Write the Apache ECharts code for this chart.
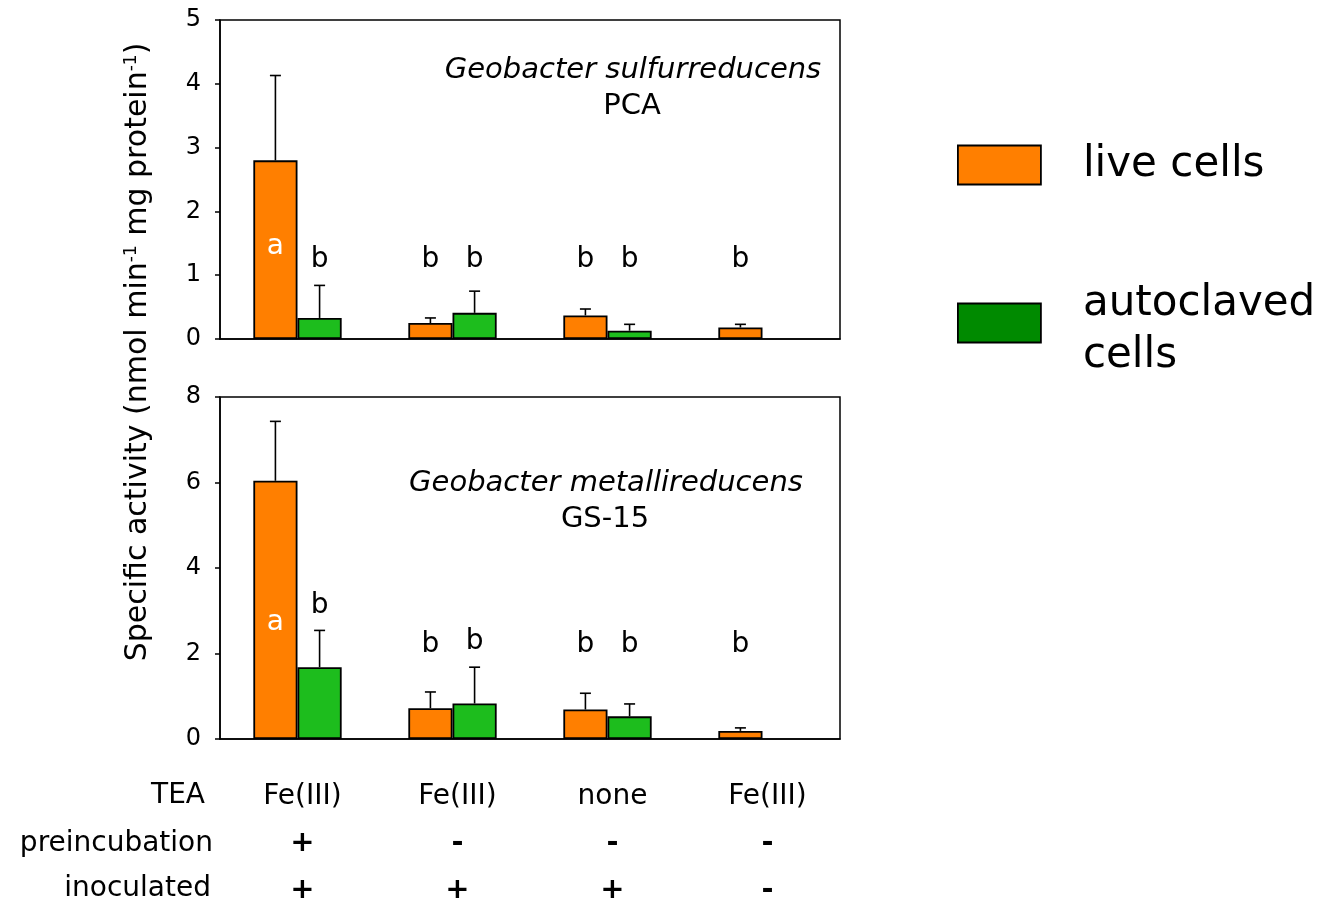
<!DOCTYPE html>
<html>
<head>
<meta charset="utf-8">
<script src="https://cdn.jsdelivr.net/npm/echarts@6/dist/echarts.min.js"></script>
<style>
html,body{margin:0;padding:0;background:#fff;}
#chart{width:1317px;height:901px;}
</style>
</head>
<body>
<div id="chart"></div>
<script>
// ---- data ----
const categories = ['Fe(III)', 'Fe(III)', 'none', 'Fe(III)'];
const preincubation = ['+', '-', '-', '-'];
const inoculated = ['+', '+', '+', '-'];
const seriesNames = ['live cells', 'autoclaved\ncells'];

// Geobacter sulfurreducens PCA
const pcaLive = [2.80, 0.25, 0.37, 0.18];
const pcaLiveErr = [1.33, 0.08, 0.10, 0.05];
const pcaAuto = [0.33, 0.41, 0.13, null];
const pcaAutoErr = [0.51, 0.34, 0.10, null];
const pcaLettersLive = ['a', 'b', 'b', 'b'];
const pcaLettersAuto = ['b', 'b', 'b', null];

// Geobacter metallireducens GS-15
const gsLive = [6.04, 0.72, 0.69, 0.19];
const gsLiveErr = [1.39, 0.38, 0.38, 0.07];
const gsAuto = [1.68, 0.83, 0.53, null];
const gsAutoErr = [0.86, 0.85, 0.29, null];
const gsLettersLive = ['a', 'b', 'b', 'b'];
const gsLettersAuto = ['b', 'b', 'b', null];

// ---- styling ----
const FONT = 'DejaVu Sans';
const ORANGE = '#ff7f00';
const GREEN = '#1dbd1d';
const LEGEND_GREEN = '#008a00';
const CAT_GAP = 0.43;

function errData(live, liveErr, auto, autoErr) {
  const out = [];
  live.forEach((v, i) => { if (v != null) out.push([i, 0, v, v + liveErr[i]]); });
  auto.forEach((v, i) => { if (v != null) out.push([i, 1, v, v + autoErr[i]]); });
  return out;
}
function letterData(live, liveErr, auto, autoErr, lLive, lAuto) {
  const out = [], txt = [];
  live.forEach((v, i) => { if (lLive[i]) { out.push([i, 0, v + liveErr[i]]); txt.push(lLive[i]); } });
  auto.forEach((v, i) => { if (lAuto[i]) { out.push([i, 1, v + autoErr[i]]); txt.push(lAuto[i]); } });
  return { data: out, txt };
}

function barOffset(api, side) {
  const band = api.size([1, 0])[0];
  const bw = band * (1 - CAT_GAP) / 2;
  return side === 0 ? -bw / 2 : bw / 2;
}

function errRender(params, api) {
  const cat = api.value(0), side = api.value(1), v = api.value(2), hi = api.value(3);
  const p0 = api.coord([cat, v]);
  const p1 = api.coord([cat, hi]);
  const x = p0[0] + barOffset(api, side);
  const st = { stroke: '#000', lineWidth: 1.6 };
  return {
    type: 'group',
    children: [
      { type: 'line', shape: { x1: x, y1: p0[1], x2: x, y2: p1[1] }, style: st },
      { type: 'line', shape: { x1: x - 5.5, y1: p1[1], x2: x + 5.5, y2: p1[1] }, style: st }
    ]
  };
}

function makeLetterRender(txt, rowLevel, aLevel) {
  return function (params, api) {
    const cat = api.value(0), side = api.value(1), top = api.value(2);
    const letter = txt[params.dataIndex];
    const x = api.coord([cat, 0])[0] + barOffset(api, side);
    let y, fill = '#000';
    if (letter === 'a') {
      y = api.coord([cat, aLevel])[1];
      fill = '#fff';
    } else {
      const rowPx = api.coord([cat, rowLevel])[1];
      const errPx = api.coord([cat, top])[1];
      y = Math.min(rowPx, errPx - 28);
    }
    return {
      type: 'text',
      style: { text: letter, x: x, y: y + 3, textAlign: 'center', textVerticalAlign: 'middle',
        font: '28px "' + FONT + '"', fill: fill }
    };
  };
}

const pcaLetters = letterData(pcaLive, pcaLiveErr, pcaAuto, pcaAutoErr, pcaLettersLive, pcaLettersAuto);
const gsLetters = letterData(gsLive, gsLiveErr, gsAuto, gsAutoErr, gsLettersLive, gsLettersAuto);

const barStyle = (c) => ({ color: c, borderColor: '#000', borderWidth: 1.8 });

const yAxisCommon = {
  type: 'value',
  axisLine: { show: true, lineStyle: { color: '#000', width: 1.5 } },
  axisTick: { show: true, length: 5, lineStyle: { color: '#000', width: 1.5 } },
  axisLabel: { color: '#000', fontSize: 24, fontFamily: FONT, margin: 19 },
  splitLine: { show: false }
};

const option = {
  animation: false,
  backgroundColor: '#fff',
  textStyle: { fontFamily: FONT },
  grid: [
    { left: 220, top: 20, width: 620, height: 319, show: true, borderColor: '#000', borderWidth: 1.5,
      backgroundColor: 'transparent', containLabel: false, outerBoundsMode: 'none' },
    { left: 220, top: 397, width: 620, height: 342, show: true, borderColor: '#000', borderWidth: 1.5,
      backgroundColor: 'transparent', containLabel: false, outerBoundsMode: 'none' }
  ],
  xAxis: [
    { type: 'category', gridIndex: 0, data: categories,
      axisLine: { lineStyle: { color: '#000', width: 1.5 } },
      axisTick: { show: false }, axisLabel: { show: false } },
    { type: 'category', gridIndex: 1, data: categories,
      axisLine: { lineStyle: { color: '#000', width: 1.5 } },
      axisTick: { show: false },
      axisLabel: {
        margin: 34, color: '#000', fontSize: 28, fontFamily: FONT, lineHeight: 47,
        padding: [0, 0, 0, 10],
        formatter: function (val, idx) {
          return val + '\n{s|' + preincubation[idx] + '}\n{s|' + inoculated[idx] + '}';
        },
        rich: { s: { fontSize: 29, fontWeight: 'bold', fontFamily: FONT, lineHeight: 47, color: '#000' } }
      } }
  ],
  yAxis: [
    Object.assign({}, yAxisCommon, { gridIndex: 0, min: 0, max: 5, interval: 1 }),
    Object.assign({}, yAxisCommon, { gridIndex: 1, min: 0, max: 8, interval: 2 })
  ],
  legend: {
    orient: 'vertical', left: 957, top: 139, itemWidth: 83, itemHeight: 39, itemGap: 68,
    padding: 0, icon: 'rect',
    formatter: function (name) {
      const lines = name.split('\n');
      if (lines.length < 2) return '{q|' + name + '}';
      return '{p|' + lines[0] + '}\n{r|' + lines.slice(1).join(' ') + '}';
    },
    textStyle: {
      fontSize: 42, fontFamily: FONT, color: '#000', lineHeight: 52, padding: [0, 0, 0, 37],
      rich: {
        p: { fontSize: 42, fontFamily: FONT, color: '#000', lineHeight: 66, verticalAlign: 'bottom' },
        q: { fontSize: 42, fontFamily: FONT, color: '#000', lineHeight: 52 },
        r: { fontSize: 42, fontFamily: FONT, color: '#000', lineHeight: 62 }
      }
    },
    data: [
      { name: seriesNames[0], itemStyle: { color: ORANGE, borderColor: '#000', borderWidth: 1.8 } },
      { name: seriesNames[1], itemStyle: { color: LEGEND_GREEN, borderColor: '#000', borderWidth: 1.8 } }
    ]
  },
  series: [
    { name: seriesNames[0], type: 'bar', xAxisIndex: 0, yAxisIndex: 0, data: pcaLive,
      barGap: '0%', barCategoryGap: (CAT_GAP * 100) + '%', itemStyle: barStyle(ORANGE) },
    { name: seriesNames[1], type: 'bar', xAxisIndex: 0, yAxisIndex: 0, data: pcaAuto.map(v => v == null ? '-' : v),
      barGap: '0%', barCategoryGap: (CAT_GAP * 100) + '%', itemStyle: barStyle(GREEN) },
    { name: seriesNames[0], type: 'bar', xAxisIndex: 1, yAxisIndex: 1, data: gsLive,
      barGap: '0%', barCategoryGap: (CAT_GAP * 100) + '%', itemStyle: barStyle(ORANGE) },
    { name: seriesNames[1], type: 'bar', xAxisIndex: 1, yAxisIndex: 1, data: gsAuto.map(v => v == null ? '-' : v),
      barGap: '0%', barCategoryGap: (CAT_GAP * 100) + '%', itemStyle: barStyle(GREEN) },
    { type: 'custom', xAxisIndex: 0, yAxisIndex: 0, renderItem: errRender, z: 3,
      data: errData(pcaLive, pcaLiveErr, pcaAuto, pcaAutoErr) },
    { type: 'custom', xAxisIndex: 1, yAxisIndex: 1, renderItem: errRender, z: 3,
      data: errData(gsLive, gsLiveErr, gsAuto, gsAutoErr) },
    { type: 'custom', xAxisIndex: 0, yAxisIndex: 0, z: 5,
      renderItem: makeLetterRender(pcaLetters.txt, 1.29, 1.5), data: pcaLetters.data },
    { type: 'custom', xAxisIndex: 1, yAxisIndex: 1, z: 5,
      renderItem: makeLetterRender(gsLetters.txt, 2.27, 2.8), data: gsLetters.data }
  ],
  graphic: [
    { type: 'text', x: 633, y: 70, style: { text: 'Geobacter sulfurreducens', textAlign: 'center', textVerticalAlign: 'middle',
        font: 'italic 29px "' + FONT + '"', fill: '#000' } },
    { type: 'text', x: 632, y: 106, style: { text: 'PCA', textAlign: 'center', textVerticalAlign: 'middle',
        font: '29px "' + FONT + '"', fill: '#000' } },
    { type: 'text', x: 606, y: 483, style: { text: 'Geobacter metallireducens', textAlign: 'center', textVerticalAlign: 'middle',
        font: 'italic 29px "' + FONT + '"', fill: '#000' } },
    { type: 'text', x: 605, y: 519, style: { text: 'GS-15', textAlign: 'center', textVerticalAlign: 'middle',
        font: '29px "' + FONT + '"', fill: '#000' } },
    { type: 'text', x: 205, y: 796, style: { text: 'TEA', textAlign: 'right', textVerticalAlign: 'middle',
        font: '28px "' + FONT + '"', fill: '#000' } },
    { type: 'text', x: 213, y: 844, style: { text: 'preincubation', textAlign: 'right', textVerticalAlign: 'middle',
        font: '28px "' + FONT + '"', fill: '#000' } },
    { type: 'text', x: 211, y: 889, style: { text: 'inoculated', textAlign: 'right', textVerticalAlign: 'middle',
        font: '28px "' + FONT + '"', fill: '#000' } },
    { type: 'text', x: 138, y: 352, rotation: Math.PI / 2,
      style: { text: 'Specific activity (nmol min{sup|-1} mg protein{sup|-1})', textAlign: 'center', textVerticalAlign: 'middle',
        font: '30px "' + FONT + '"', fill: '#000',
        rich: { sup: { fontSize: 17, fontFamily: FONT, padding: [0, 0, 13, 0], fill: '#000' } } } }
  ]
};

const chart = echarts.init(document.getElementById('chart'), null, { renderer: 'canvas' });
chart.setOption(option);
</script>
</body>
</html>
